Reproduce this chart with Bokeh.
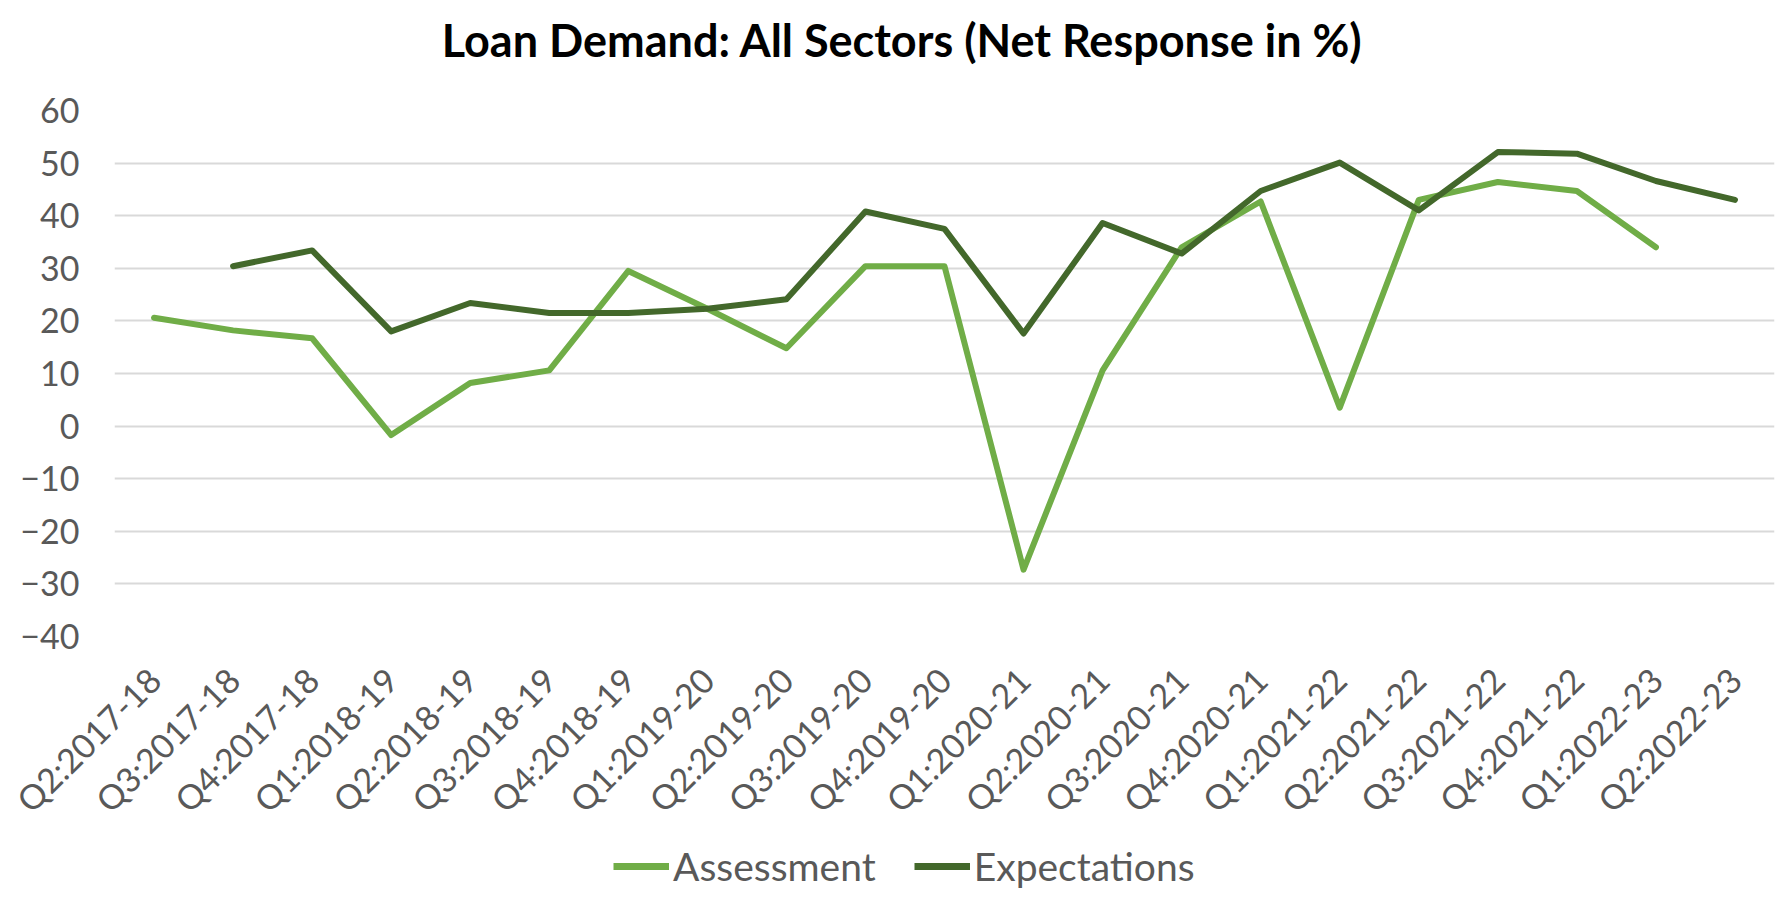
import math
from bokeh.plotting import figure
from bokeh.layouts import column
from bokeh.models import (Range1d, FactorRange, FixedTicker, Legend, LegendItem, Label)
from bokeh.embed import file_html
from bokeh.resources import INLINE

categories = ["Q2:2017-18", "Q3:2017-18", "Q4:2017-18", "Q1:2018-19", "Q2:2018-19",
              "Q3:2018-19", "Q4:2018-19", "Q1:2019-20", "Q2:2019-20", "Q3:2019-20",
              "Q4:2019-20", "Q1:2020-21", "Q2:2020-21", "Q3:2020-21", "Q4:2020-21",
              "Q1:2021-22", "Q2:2021-22", "Q3:2021-22", "Q4:2021-22", "Q1:2022-23",
              "Q2:2022-23"]
nan = float("nan")
assessment = [20.6, 18.2, 16.7, -1.7, 8.2, 10.6, 29.5, 22.3, 14.8, 30.4,
              30.4, -27.3, 10.6, 34.0, 42.7, 3.5, 43.0, 46.4, 44.7, 34.0, nan]
expectations = [nan, 30.4, 33.4, 18.0, 23.4, 21.5, 21.5, 22.3, 24.1, 40.8,
                 37.5, 17.6, 38.6, 32.8, 44.7, 50.1, 41.0, 52.1, 51.8, 46.6, 43.0]
y_ticks = [-40, -30, -20, -10, 0, 10, 20, 30, 40, 50, 60]
series_names = ["Assessment", "Expectations"]
series_colors = ["#70AD47", "#43682B"]
title_text = "Loan Demand: All Sectors (Net Response in %)"

FONT = "Lato"
GREY = "#595959"
W = 1778

# --- title strip ---
pt = figure(width=W, height=80, x_range=Range1d(0, 1), y_range=Range1d(0, 1),
            output_backend="svg", toolbar_location=None, title=None,
            x_axis_location=None, y_axis_location=None, min_border=0)
pt.outline_line_color = None
pt.grid.visible = False
pt.add_layout(Label(x=788, y=41, x_units="screen", y_units="screen", text=title_text,
                    text_align="center", text_baseline="middle", text_font=FONT,
                    text_font_style="bold", text_font_size="45px", text_color="#000000"))

# --- main chart ---
p = figure(width=W, height=762, x_range=FactorRange(*categories),
           y_range=Range1d(-40, 60), output_backend="svg", toolbar_location=None,
           title=None, min_border_left=114, min_border_right=4, min_border_top=30,
           min_border_bottom=206)
p.outline_line_color = None
p.xgrid.grid_line_color = None
p.ygrid.grid_line_color = "#D9D9D9"
p.ygrid.grid_line_width = 2
p.ygrid.ticker = FixedTicker(ticks=y_ticks)
p.yaxis.ticker = FixedTicker(ticks=y_ticks)

for ax in (p.xaxis[0], p.yaxis[0]):
    ax.axis_line_color = None
    ax.major_tick_line_color = None
    ax.minor_tick_line_color = None
    ax.major_label_text_font = FONT
    ax.major_label_text_color = GREY
    ax.major_label_text_font_size = "34px"
p.yaxis.major_label_standoff = 29
p.xaxis.major_label_orientation = math.pi / 4
p.xaxis.major_label_standoff = 31

p.line(categories, assessment, line_color=series_colors[0], line_width=6,
       line_join="round", line_cap="round")
p.line(categories, expectations, line_color=series_colors[1], line_width=6,
       line_join="round", line_cap="round")

# --- legend strip ---
pl = figure(width=W, height=47, x_range=Range1d(0, 1), y_range=Range1d(0, 1),
            output_backend="svg", toolbar_location=None, title=None,
            x_axis_location=None, y_axis_location=None, min_border=0)
pl.outline_line_color = None
pl.grid.visible = False
lr1 = pl.line([-5, -4], [-5, -5], line_color=series_colors[0], line_width=7)
lr2 = pl.line([-5, -4], [-5, -5], line_color=series_colors[1], line_width=7)
legend = Legend(items=[LegendItem(label=series_names[0], renderers=[lr1]),
                       LegendItem(label=series_names[1], renderers=[lr2])],
                location=(499, 0), orientation="horizontal",
                glyph_width=56, glyph_height=40, label_height=40, label_standoff=4,
                spacing=38, padding=0, margin=0, border_line_alpha=0,
                background_fill_alpha=0, label_text_font=FONT,
                label_text_font_size="39px", label_text_color=GREY)
pl.add_layout(legend)

layout = column(pt, p, pl, spacing=0)
open("out.html", "w").write(file_html(layout, INLINE))
